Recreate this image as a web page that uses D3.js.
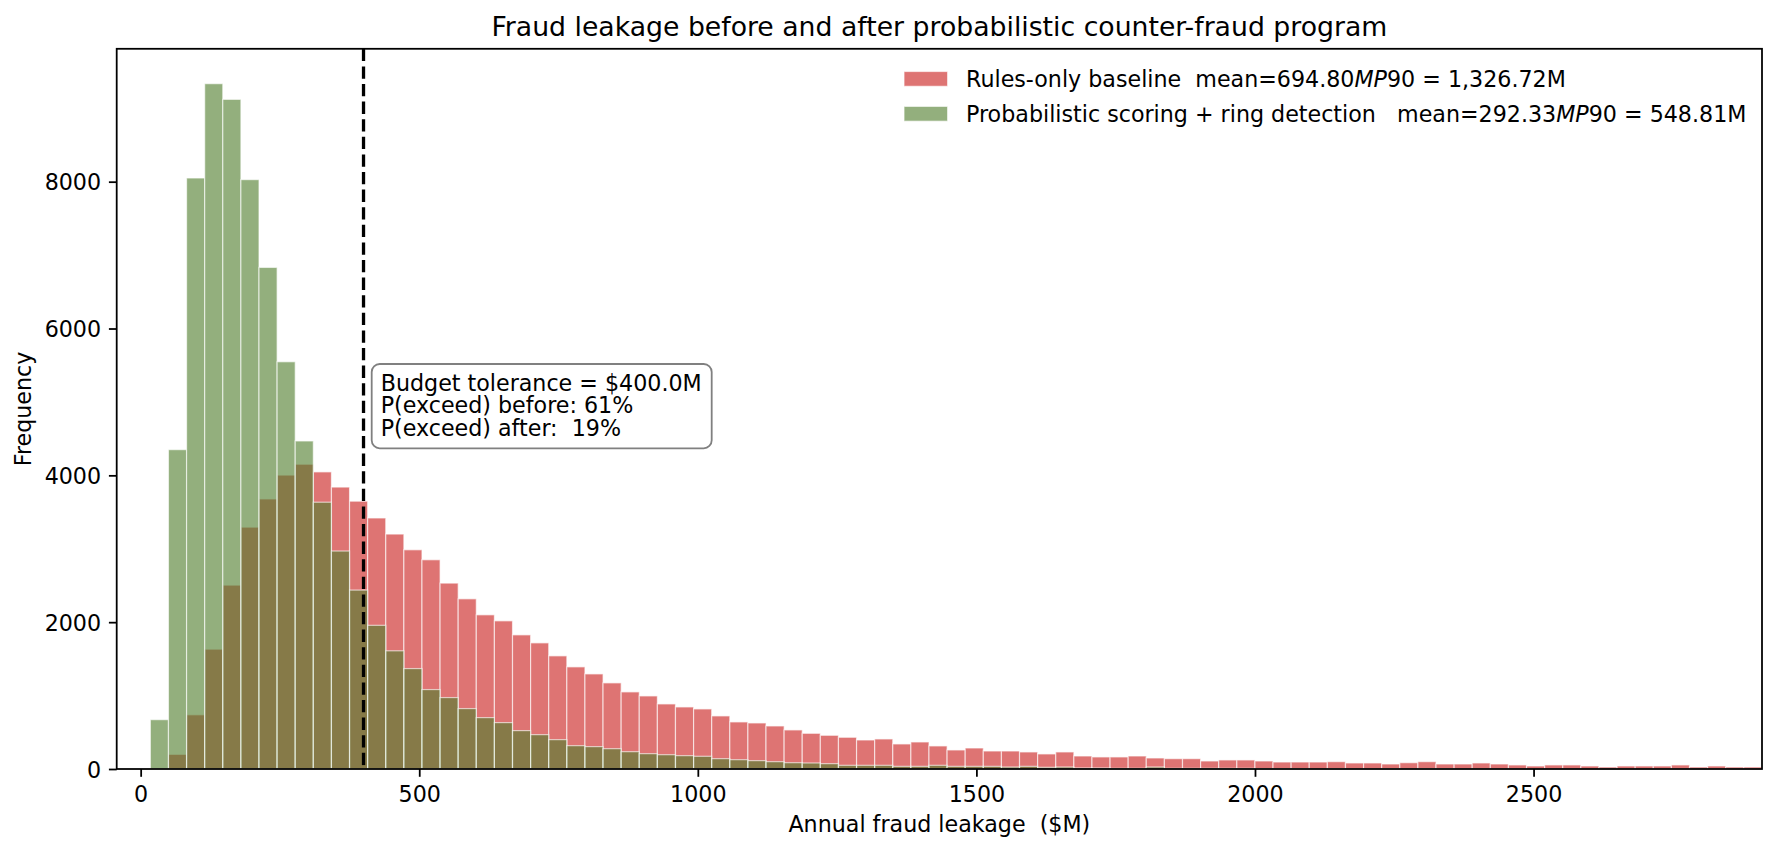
<!DOCTYPE html>
<html><head><meta charset="utf-8">
<script src="https://cdn.jsdelivr.net/npm/d3@7"></script>
<style>
body{margin:0;background:#fff}
text{font-family:"DejaVu Sans",sans-serif;fill:#000;white-space:pre}
</style>
</head><body><svg id="c" width="1778" height="850"></svg>
<script>
// ---- data ----
const baselineCounts = [0,199,738,1632,2504,3294,3678,4003,4151,4047,3840,3648,3419,3200,2986,2850,2532,2318,2100,2018,
  1827,1718,1541,1391,1295,1173,1050,995,886,845,818,723,641,627,586,532,486,459,432,395,
  409,341,368,314,259,286,245,245,232,205,232,177,164,164,177,150,141,141,109,123,
  123,109,95,95,95,100,82,82,68,86,100,68,68,82,68,55,41,55,55,41,
  27,41,41,41,55,27,41,27,27];
const afterCounts = [672,4350,8050,9335,9121,8028,6832,5547,4468,3634,2969,2437,1957,1610,1368,1082,973,823,700,632,
  523,468,400,318,305,277,236,209,195,182,173,141,127,114,100,86,82,73,50,50,
  50,36,36,50,36,36,36,27,36,23,27,14,14,9,9,27,9,9,9,9,
  9,5,5,5,0,5,0,0,5,0,5,5,0,0,0,0,0,0,0,0,
  0,0,0,0,0,0,0,0,0];
const binStart = 17.4, binWidth = 32.5;          // histogram bin edges ($M)
const xTicks = [0,500,1000,1500,2000,2500];
const yTicks = [0,2000,4000,6000,8000];
const budget = 400;
const titleText = "Fraud leakage before and after probabilistic counter-fraud program";
const xLabel = "Annual fraud leakage  ($M)";
const yLabel = "Frequency";
const legendParts = [
  ["Rules-only baseline  mean=694.80", "MP", "90 = 1,326.72M"],
  ["Probabilistic scoring + ring detection   mean=292.33", "MP", "90 = 548.81M"]
];
const noteLines = ["Budget tolerance = $400.0M", "P(exceed) before: 61%", "P(exceed) after:  19%"];

// ---- layout ----
const L = 116.7, R = 1762, T = 48.8, B = 769;
const FS = 22.2, TS = 7.8;
const redFill = "#ca1f1d", greenFill = "#517e2d", alpha = 0.62;

const svg = d3.select("#c");
const x = d3.scaleLinear().domain([-43, 2910]).range([L, R]);
const y = d3.scaleLinear().domain([0, 9810]).range([B, T]);

svg.append("defs").append("clipPath").attr("id","clip")
  .append("rect").attr("x",L).attr("y",T).attr("width",R-L).attr("height",B-T);

const plot = svg.append("g").attr("clip-path","url(#clip)");

function drawHist(counts, color){
  const bins = counts.map((v,i)=>({x0: binStart+i*binWidth, x1: binStart+(i+1)*binWidth, v}))
    .filter(d=>d.v>0);
  plot.append("g").selectAll("rect").data(bins).join("rect")
    .attr("x", d=>x(d.x0)).attr("width", d=>x(d.x1)-x(d.x0))
    .attr("y", d=>y(d.v)).attr("height", d=>y(0)-y(d.v))
    .attr("fill", color).attr("fill-opacity", alpha)
    .attr("stroke", "#fff").attr("stroke-opacity", alpha).attr("stroke-width", 1.2);
}
drawHist(baselineCounts, redFill);
drawHist(afterCounts, greenFill);

// budget line
plot.append("line").attr("x1", x(budget)).attr("x2", x(budget)).attr("y1", T).attr("y2", B)
  .attr("stroke","#000").attr("stroke-width",3.3).attr("stroke-dasharray","12.3,5.3");

// axes
const xAxis = svg.append("g").attr("transform",`translate(0,${B})`)
  .call(d3.axisBottom(x).tickValues(xTicks).tickFormat(d3.format("d")).tickSize(TS).tickPadding(TS).tickSizeOuter(0));
const yAxis = svg.append("g").attr("transform",`translate(${L},0)`)
  .call(d3.axisLeft(y).tickValues(yTicks).tickFormat(d3.format("d")).tickSize(TS).tickPadding(TS).tickSizeOuter(0));
[xAxis,yAxis].forEach(g=>{
  g.select(".domain").remove();
  g.attr("font-family",null).attr("font-size",null);
  g.selectAll("line").attr("stroke","#000").attr("stroke-width",1.78);
  g.selectAll("text").attr("font-size",FS).attr("fill","#000");
});
xAxis.selectAll("text").attr("dy","0.78em");
yAxis.selectAll("text").attr("dy","0.36em");

// spines
svg.append("rect").attr("x",L).attr("y",T).attr("width",R-L).attr("height",B-T)
  .attr("fill","none").attr("stroke","#000").attr("stroke-width",1.78);

// title & labels
svg.append("text").attr("x",(L+R)/2).attr("y",36).attr("text-anchor","middle")
  .attr("font-size",26.7).text(titleText);
svg.append("text").attr("x",(L+R)/2).attr("y",832).attr("text-anchor","middle")
  .attr("font-size",FS).text(xLabel);
svg.append("text").attr("transform",`translate(31,${(T+B)/2}) rotate(-90)`).attr("text-anchor","middle")
  .attr("font-size",FS).text(yLabel);

// legend (no frame)
const legColors = [redFill, greenFill];
const legCenters = [78.9, 113.8];
legendParts.forEach((p,i)=>{
  svg.append("rect").attr("x",904).attr("y",legCenters[i]-7.4).attr("width",43.6).attr("height",14.8)
    .attr("fill",legColors[i]).attr("fill-opacity",alpha)
    .attr("stroke","#fff").attr("stroke-opacity",alpha).attr("stroke-width",1.2);
  const t = svg.append("text").attr("x",966).attr("y",legCenters[i]+7.9).attr("font-size",FS);
  t.append("tspan").text(p[0]);
  t.append("tspan").attr("font-style","italic").text(p[1]);
  t.append("tspan").text(p[2]);
});

// annotation box
svg.append("rect").attr("x",371.7).attr("y",364).attr("width",340).attr("height",84.3)
  .attr("rx",8).attr("ry",8).attr("fill","#fff").attr("fill-opacity",0.9)
  .attr("stroke","#808080").attr("stroke-width",1.8);
const noteY = [390.7, 413.2, 435.5];
noteLines.forEach((s,i)=>{
  svg.append("text").attr("x",380.7).attr("y",noteY[i]).attr("font-size",FS).text(s);
});
</script>
</body></html>
